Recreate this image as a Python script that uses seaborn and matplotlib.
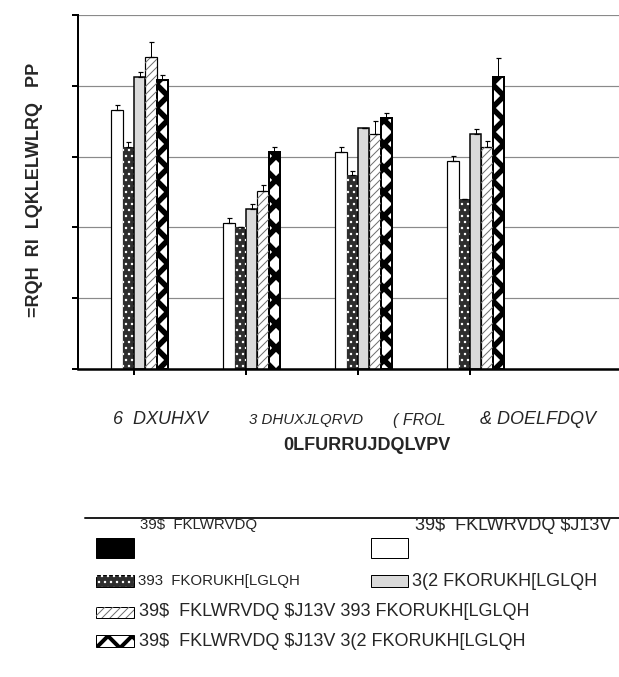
import matplotlib
matplotlib.use('Agg')
import matplotlib.pyplot as plt
import matplotlib.patches as mpatches
from matplotlib.lines import Line2D
from matplotlib.container import BarContainer
from matplotlib.transforms import blended_transform_factory
import seaborn as sns
import pandas as pd

# data (zone in mm)
organisms = ['6  DXUHXV', '3 DHUXJLQRVD', '( FROL', '& DOELFDQV']
series = ['39$  FKLWRVDQ', '39$  FKLWRVDQ $J13V', '393  FKORUKH[LGLQH', '3(2 FKORUKH[LGLQH',
          '39$  FKLWRVDQ $J13V 393 FKORUKH[LGLQH', '39$  FKLWRVDQ $J13V 3(2 FKORUKH[LGLQH']

pva_chitosan = [0, 0, 0, 0]
pva_agnps = [18.3, 10.3, 15.3, 14.7]
pvp_chx = [15.7, 10.0, 13.7, 12.0]
peo_chx = [20.6, 11.3, 17.0, 16.6]
pva_agnps_pvp = [22.0, 12.6, 16.6, 15.7]
pva_agnps_peo = [20.4, 15.3, 17.7, 20.6]

err_pva_chitosan = [0, 0, 0, 0]
err_pva_agnps = [0.35, 0.33, 0.35, 0.37]
err_pvp_chx = [0.31, 0, 0.3, 0]
err_peo_chx = [0.38, 0.35, 0, 0.38]
err_pva_agnps_pvp = [1.06, 0.42, 0.94, 0.37]
err_pva_agnps_peo = [0.33, 0.36, 0.35, 1.37]

values = [pva_chitosan, pva_agnps, pvp_chx, peo_chx, pva_agnps_pvp, pva_agnps_peo]
errors = [err_pva_chitosan, err_pva_agnps, err_pvp_chx, err_peo_chx, err_pva_agnps_pvp, err_pva_agnps_peo]

rows = []
for s, vals in zip(series, values):
    for org, v in zip(organisms, vals):
        rows.append({'organism': org, 'series': s, 'zone': v})
df = pd.DataFrame(rows)

# bar styles: face, edge, edge width, hatch, hatch colour, hatch width
styles = [
    ('black', 'black', 1.0, None, None, 1.0),
    ('white', 'black', 1.2, None, None, 1.0),
    ('#2e2e2e', '#2e2e2e', 1.0, '..', 'white', 1.2),
    ('#dadada', 'black', 1.5, None, None, 1.0),
    ('white', 'black', 1.2, '///', '#707070', 1.0),
    ('white', 'black', 2.0, 'x', 'black', 5.5),
]

sns.set_style('white')
plt.rcParams['font.family'] = ['Liberation Sans', 'DejaVu Sans']
plt.rcParams['text.parse_math'] = False
narrow = ['Liberation Sans Narrow', 'Liberation Sans', 'DejaVu Sans']

W, H = 619, 677
fig = plt.figure(figsize=(W / 72, H / 72), dpi=72)
ax = fig.add_axes([78 / W, 1 - 369 / H, (W - 78) / W, 354 / H])

sns.barplot(data=df, x='organism', y='zone', hue='series', order=organisms, hue_order=series,
            palette=[s[0] for s in styles], width=0.61, saturation=1, errorbar=None,
            legend=False, ax=ax)


def add_hatch(target, patch_src, hatch, color, hlw, transform=None):
    kw = {} if transform is None else {'transform': transform}
    with plt.rc_context({'hatch.linewidth': hlw}):
        r = mpatches.Rectangle((patch_src.get_x(), patch_src.get_y()), patch_src.get_width(),
                               patch_src.get_height(), fill=False, edgecolor=color, lw=0,
                               hatch=hatch, zorder=patch_src.get_zorder() + 0.1, **kw)
    if hasattr(r, 'set_hatch_linewidth'):
        r.set_hatch_linewidth(hlw)
    if transform is None:
        target.add_patch(r)
    else:
        target.add_artist(r)
    return r


bar_conts = [c for c in ax.containers if isinstance(c, BarContainer)]
for i, cont in enumerate(bar_conts):
    face, edge, lw, hatch, hcol, hlw = styles[i]
    xs, ys = [], []
    for p in cont.patches:
        p.set_facecolor(face)
        p.set_edgecolor(edge)
        p.set_linewidth(lw)
        if hatch:
            add_hatch(ax, p, hatch, hcol, hlw)
        xs.append(p.get_x() + p.get_width() / 2)
        ys.append(p.get_height())
    if i > 0:
        ax.errorbar(xs, ys, yerr=[[0] * len(xs), errors[i]], fmt='none', ecolor='black',
                    elinewidth=1, capsize=2.5, capthick=1.2, zorder=5)

ax.set_ylim(0, 25)
ax.set_yticks(range(0, 26, 5))
ax.set_xlim(-0.5, -0.5 + (W - 78) / 112)
ax.yaxis.grid(True, color='#8a8a8a', lw=1.2)
ax.set_axisbelow(True)
for side in ['top', 'right']:
    ax.spines[side].set_visible(False)
ax.spines['left'].set_linewidth(2)
ax.spines['bottom'].set_linewidth(2.5)
ax.spines['left'].set_color('black')
ax.spines['bottom'].set_color('black')
ax.tick_params(axis='y', direction='out', length=6, width=2, color='black', labelleft=False, left=True)
ax.tick_params(axis='x', direction='out', length=6, width=2, color='black', labelbottom=False, bottom=True)
ax.set_xlabel('')
ax.set_ylabel('')

# category labels (offset to the right like in the reference)
label_shift = [0.24, 0.536, 0.545, 0.607]
label_size = [18, 15, 16, 18]
tr = blended_transform_factory(ax.transData, fig.transFigure)
for i, org in enumerate(organisms):
    ax.text(i + label_shift[i], 1 - 420 / H, org, transform=tr, ha='center', va='center',
            fontsize=label_size[i], style='italic', family=narrow)

fig.text(367 / W, 1 - 445 / H, '0LFURRUJDQLVPV', ha='center', va='center', fontsize=18,
         weight='bold', family=narrow)
fig.text(35 / W, 1 - 190 / H, '=RQH  RI  LQKLELWLRQ   PP', ha='center', va='center',
         rotation=90, fontsize=18, weight='bold')

# legend
fig.add_artist(Line2D([85 / W, 1], [1 - 518 / H] * 2, color='#222222', lw=2, transform=fig.transFigure))
swatches = [(96, 538, 38, 20), (371, 538, 37, 20), (96, 575, 38, 12),
            (371, 575, 37, 12), (96, 607, 38, 11), (96, 635, 38, 12)]
texts = [(140, 525, 15, narrow), (415, 525, 18, None), (138, 581, 15, narrow),
         (412, 581, 18, None), (139, 612, 18, None), (139, 641, 18, None)]
for i, s in enumerate(series):
    face, edge, lw, hatch, hcol, hlw = styles[i]
    x, y, w, h = swatches[i]
    r = mpatches.Rectangle((x / W, 1 - (y + h) / H), w / W, h / H, facecolor=face,
                           edgecolor='black', lw=1.0, transform=fig.transFigure)
    fig.add_artist(r)
    if hatch:
        add_hatch(fig, r, hatch, hcol, min(hlw, 4.0), transform=fig.transFigure)
    tx, ty, fs, fam = texts[i]
    kw = {} if fam is None else {'family': fam}
    fig.text(tx / W, 1 - ty / H, s, ha='left', va='center', fontsize=fs, **kw)

plt.savefig('out.png', dpi=72)
